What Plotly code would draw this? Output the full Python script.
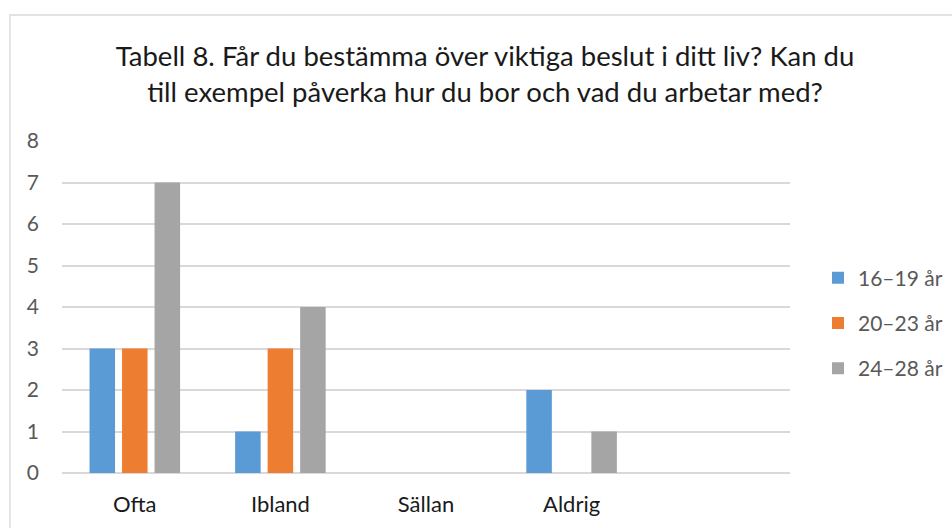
import plotly.graph_objects as go

categories = ["Ofta", "Ibland", "Sällan", "Aldrig", " "]
series_names = ["16–19 år", "20–23 år", "24–28 år"]
values_16_19 = [3, 1, 0, 2, None]
values_20_23 = [3, 3, 0, 0, None]
values_24_28 = [7, 4, 0, 1, None]
colors = ["#5B9BD5", "#ED7D31", "#A5A5A5"]
y_ticks = [0, 1, 2, 3, 4, 5, 6, 7, 8]

title_text = ("Tabell 8. Får du bestämma över viktiga beslut i ditt liv? Kan du<br>"
              "till exempel påverka hur du bor och vad du arbetar med?")

FONT = "Lato, 'Open Sans', sans-serif"

fig = go.Figure()
for i, (name, vals) in enumerate(zip(series_names, [values_16_19, values_20_23, values_24_28])):
    fig.add_trace(go.Bar(
        x=categories, y=vals, name=name,
        marker=dict(color=colors[i], line=dict(width=0)),
        legendgroup=f"g{i}",
        hoverinfo="x+y+name",
    ))

W, H = 952, 528
L, R, T, B = 62, 790, 141, 473

fig.update_layout(
    width=W, height=H,
    margin=dict(l=L, r=W - R, t=T, b=H - B, pad=0, autoexpand=False),
    paper_bgcolor="white", plot_bgcolor="white",
    barmode="group", bargap=0.33, bargroupgap=0.215,
    font=dict(family=FONT, color="#595959", size=21),
    title=dict(
        text=title_text,
        x=485 / W, xref="container", xanchor="center",
        y=1 - 66 / H, yref="container", yanchor="top",
        font=dict(family=FONT, size=27.5, color="#1a1a1a"),
    ),
    xaxis=dict(
        type="category", categoryorder="array", categoryarray=categories,
        showgrid=False, showline=False, zeroline=False,
        ticks="", tickfont=dict(color="#1a1a1a", size=22),
        ticklabelstandoff=16,
    ),
    yaxis=dict(
        range=[0, 8], tickvals=y_ticks, showgrid=True, gridcolor="#D9D9D9", gridwidth=1.5,
        zeroline=True, zerolinecolor="#D9D9D9", zerolinewidth=1.5,
        showline=False, ticks="", tickfont=dict(color="#595959", size=21),
        ticklabelstandoff=22,
    ),
    legend=dict(
        x=(818 - L) / (R - L), xanchor="left",
        y=(B - 323) / (B - T), yanchor="middle",
        font=dict(size=21, color="#595959"),
        tracegroupgap=15, itemclick=False,
        bgcolor="rgba(0,0,0,0)",
    ),
    showlegend=True,
)

# chart frame (light gray border)
fig.add_shape(type="rect", xref="paper", yref="paper",
              x0=(10 - L) / (R - L), x1=(970 - L) / (R - L),
              y0=(B - 545) / (B - T), y1=(B - 15) / (B - T),
              line=dict(color="#D9D9D9", width=1.3), fillcolor="rgba(0,0,0,0)",
              layer="below")

fig.write_html("out.html", config={"displayModeBar": False},
               post_script="document.body.style.margin='0';")
